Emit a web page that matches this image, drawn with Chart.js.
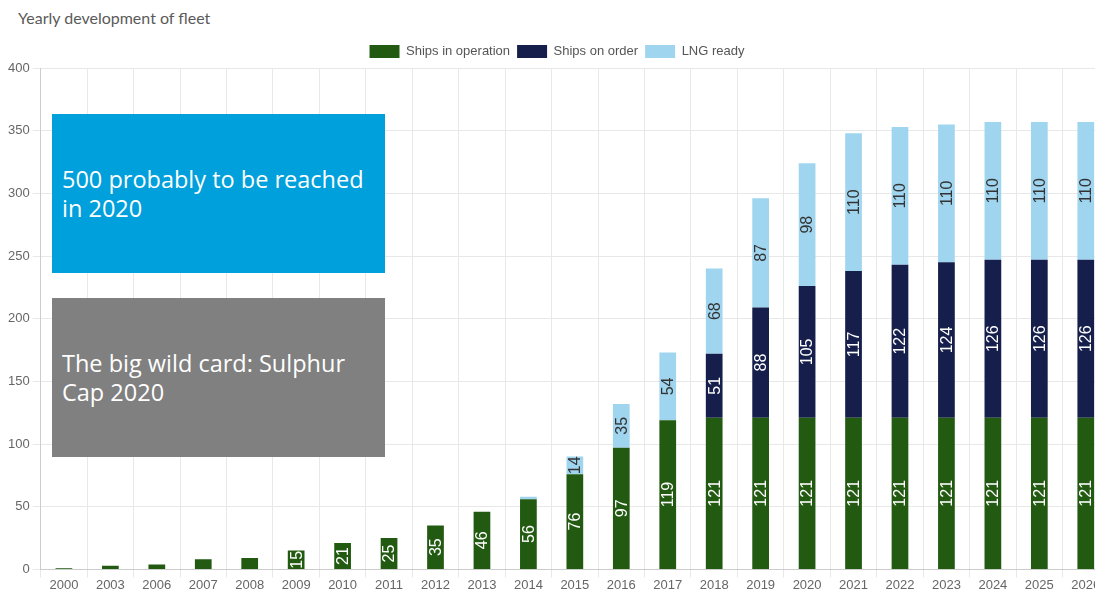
<!DOCTYPE html>
<html>
<head>
<meta charset="utf-8">
<script src="https://cdn.jsdelivr.net/npm/chart.js@4.4.1/dist/chart.umd.min.js"></script>
<style>
  html, body { margin: 0; padding: 0; background: #fff; overflow: hidden; width: 1095px; height: 589px; }
  #title { position: absolute; left: 18px; top: 8px; font: 16px Lato, "Open Sans", sans-serif; color: #5a5a5a; }
  #wrap { position: absolute; left: 0; top: 0; width: 1109px; height: 593px; }
  .box { position: absolute; left: 52px; width: 333px; height: 159px; color: #fff;
         font: 23.5px "Open Sans", "Liberation Sans", sans-serif; line-height: 29px;
         display: flex; align-items: center; padding-left: 10px; box-sizing: border-box; padding-right: 12px; }
  #b1 { top: 114px; background: #00a0dc; }
  #b2 { top: 298px; background: #808080; }
</style>
</head>
<body>
<div id="title">Yearly development of fleet</div>
<div id="wrap"><canvas id="c"></canvas></div>
<div class="box" id="b1">500 probably to be reached in 2020</div>
<div class="box" id="b2">The big wild card: Sulphur Cap 2020</div>
<script>
const years = ['2000','2003','2006','2007','2008','2009','2010','2011','2012','2013','2014','2015','2016','2017','2018','2019','2020','2021','2022','2023','2024','2025','2026'];
const shipsInOperation = [1, 3, 4, 8, 9, 15, 21, 25, 35, 46, 56, 76, 97, 119, 121, 121, 121, 121, 121, 121, 121, 121, 121];
const shipsOnOrder     = [0, 0, 0, 0, 0, 0, 0, 0, 0, 0, 0, 0, 0, 0, 51, 88, 105, 117, 122, 124, 126, 126, 126];
const lngReady         = [0, 0, 0, 0, 0, 0, 0, 0, 0, 0, 2, 14, 35, 54, 68, 87, 98, 110, 110, 110, 110, 110, 110];
const yTicks = [0, 50, 100, 150, 200, 250, 300, 350, 400];

const labelPlugin = {
  id: 'barLabels',
  afterDatasetsDraw(chart) {
    const ctx = chart.ctx;
    ctx.save();
    chart.data.datasets.forEach((ds, di) => {
      const meta = chart.getDatasetMeta(di);
      meta.data.forEach((el, i) => {
        const v = ds.data[i];
        if (v < 10) return;
        const p = el.getProps(['x', 'y', 'base'], true);
        const cy = (p.y + p.base) / 2;
        ctx.save();
        ctx.translate(p.x, cy);
        ctx.rotate(-Math.PI / 2);
        ctx.font = '16px "Liberation Sans", Arial, sans-serif';
        ctx.fillStyle = ds.labelColor;
        ctx.textAlign = 'center';
        ctx.textBaseline = 'middle';
        ctx.fillText(String(v), 0, 1);
        ctx.restore();
      });
    });
    ctx.restore();
  }
};

new Chart(document.getElementById('c'), {
  type: 'bar',
  data: {
    labels: years,
    datasets: [
      { label: 'Ships in operation', data: shipsInOperation, backgroundColor: '#225a12', labelColor: '#ffffff' },
      { label: 'Ships on order', data: shipsOnOrder, backgroundColor: '#161f4b', labelColor: '#ffffff' },
      { label: 'LNG ready', data: lngReady, backgroundColor: '#a0d5ef', labelColor: '#333333' }
    ]
  },
  options: {
    responsive: true,
    maintainAspectRatio: false,
    animation: false,
    layout: { padding: { top: 38, left: 5 } },
    datasets: { bar: { barPercentage: 0.5, categoryPercentage: 0.72 } },
    plugins: {
      legend: {
        position: 'top',
        labels: { boxWidth: 30, boxHeight: 13, padding: 7, color: '#555', font: { size: 13, lineHeight: 1, family: '"Liberation Sans", Arial, sans-serif' } }
      },
      tooltip: { enabled: false }
    },
    scales: {
      x: {
        stacked: true,
        grid: { color: '#e8e8e8', offset: true },
        border: { color: '#cccccc' },
        ticks: { color: '#666', padding: 0, font: { size: 13, family: '"Liberation Sans", Arial, sans-serif' }, maxRotation: 0, autoSkip: false }
      },
      y: {
        stacked: true,
        min: 0, max: 400,
        afterBuildTicks(axis) { axis.ticks = yTicks.map(v => ({ value: v })); },
        grid: { color: '#e8e8e8' },
        border: { color: '#cccccc' },
        ticks: { color: '#666', font: { size: 13, family: '"Liberation Sans", Arial, sans-serif' } }
      }
    }
  },
  plugins: [labelPlugin]
});
</script>
</body>
</html>
